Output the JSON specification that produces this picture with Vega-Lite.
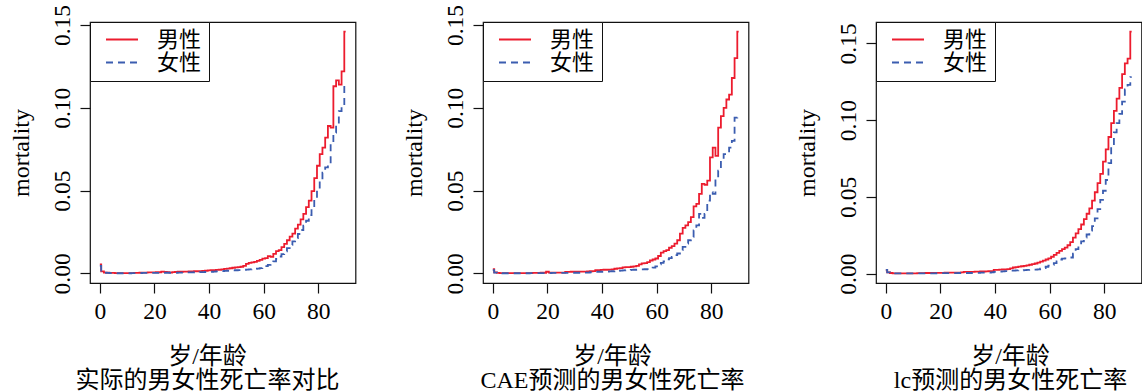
{
  "$schema": "https://vega.github.io/schema/vega-lite/v6.json",
  "padding": {"left": 8, "top": 3, "right": 0, "bottom": 0},
  "background": "white",
  "datasets": {
    "actual": [
      {"age":0,"男性":0.0055,"女性":0.0045},{"age":1,"男性":0.0012,"女性":0.0010},{"age":2,"男性":0.0005,"女性":0.0004},{"age":3,"男性":0.0004,"女性":0.0003},{"age":4,"男性":0.0003,"女性":0.0002},{"age":5,"男性":0.0003,"女性":0.0002},{"age":6,"男性":0.0002,"女性":0.0002},{"age":7,"男性":0.0002,"女性":0.0001},{"age":8,"男性":0.0002,"女性":0.0001},{"age":9,"男性":0.0002,"女性":0.0001},
      {"age":10,"男性":0.0002,"女性":0.0001},{"age":11,"男性":0.0002,"女性":0.0001},{"age":12,"男性":0.0002,"女性":0.0002},{"age":13,"男性":0.0003,"女性":0.0002},{"age":14,"男性":0.0003,"女性":0.0002},{"age":15,"男性":0.0004,"女性":0.0002},{"age":16,"男性":0.0005,"女性":0.0003},{"age":17,"男性":0.0005,"女性":0.0003},{"age":18,"男性":0.0006,"女性":0.0003},{"age":19,"男性":0.0006,"女性":0.0003},
      {"age":20,"男性":0.0006,"女性":0.0003},{"age":21,"男性":0.0007,"女性":0.0003},{"age":22,"男性":0.0007,"女性":0.0003},{"age":23,"男性":0.0011,"女性":0.0003},{"age":24,"男性":0.0009,"女性":0.0004},{"age":25,"男性":0.0008,"女性":0.0004},{"age":26,"男性":0.0005,"女性":0.0004},{"age":27,"男性":0.0008,"女性":0.0004},{"age":28,"男性":0.0009,"女性":0.0004},{"age":29,"男性":0.0010,"女性":0.0005},
      {"age":30,"男性":0.0010,"女性":0.0005},{"age":31,"男性":0.0011,"女性":0.0005},{"age":32,"男性":0.0011,"女性":0.0006},{"age":33,"男性":0.0012,"女性":0.0006},{"age":34,"男性":0.0012,"女性":0.0006},{"age":35,"男性":0.0013,"女性":0.0007},{"age":36,"男性":0.0013,"女性":0.0007},{"age":37,"男性":0.0014,"女性":0.0008},{"age":38,"男性":0.0015,"女性":0.0008},{"age":39,"男性":0.0016,"女性":0.0009},
      {"age":40,"男性":0.0018,"女性":0.0010},{"age":41,"男性":0.0019,"女性":0.0010},{"age":42,"男性":0.0020,"女性":0.0011},{"age":43,"男性":0.0021,"女性":0.0012},{"age":44,"男性":0.0022,"女性":0.0013},{"age":45,"男性":0.0024,"女性":0.0014},{"age":46,"男性":0.0027,"女性":0.0015},{"age":47,"男性":0.0029,"女性":0.0016},{"age":48,"男性":0.0031,"女性":0.0017},{"age":49,"男性":0.0034,"女性":0.0018},
      {"age":50,"男性":0.0036,"女性":0.0019},{"age":51,"男性":0.0038,"女性":0.0020},{"age":52,"男性":0.0040,"女性":0.0021},{"age":53,"男性":0.0045,"女性":0.0022},{"age":54,"男性":0.0058,"女性":0.0023},{"age":55,"男性":0.0064,"女性":0.0024},{"age":56,"男性":0.0067,"女性":0.0025},{"age":57,"男性":0.0070,"女性":0.0027},{"age":58,"男性":0.0075,"女性":0.0029},{"age":59,"男性":0.0082,"女性":0.0032},
      {"age":60,"男性":0.0089,"女性":0.0036},{"age":61,"男性":0.0092,"女性":0.0044},{"age":62,"男性":0.0104,"女性":0.0052},{"age":63,"男性":0.0100,"女性":0.0060},{"age":64,"男性":0.0118,"女性":0.0072},{"age":65,"男性":0.0135,"女性":0.0088},{"age":66,"男性":0.0140,"女性":0.0102},{"age":67,"男性":0.0159,"女性":0.0116},{"age":68,"男性":0.0178,"女性":0.0133},{"age":69,"男性":0.0200,"女性":0.0152},
      {"age":70,"男性":0.0222,"女性":0.0172},{"age":71,"男性":0.0240,"女性":0.0193},{"age":72,"男性":0.0270,"女性":0.0213},{"age":73,"男性":0.0295,"女性":0.0238},{"age":74,"男性":0.0326,"女性":0.0262},{"age":75,"男性":0.0360,"女性":0.0288},{"age":76,"男性":0.0400,"女性":0.0318},{"age":77,"男性":0.0440,"女性":0.0352},{"age":78,"男性":0.0497,"女性":0.0398},{"age":79,"男性":0.0575,"女性":0.0446},
      {"age":80,"男性":0.0650,"女性":0.0500},{"age":81,"男性":0.0720,"女性":0.0560},{"age":82,"男性":0.0760,"女性":0.0608},{"age":83,"男性":0.0820,"女性":0.0640},{"age":84,"男性":0.0890,"女性":0.0662},{"age":85,"男性":0.0880,"女性":0.0785},{"age":86,"男性":0.1130,"女性":0.0850},{"age":87,"男性":0.1165,"女性":0.0900},{"age":88,"男性":0.1140,"女性":0.0980},{"age":89,"男性":0.1220,"女性":0.1010},
      {"age":90,"男性":0.1460,"女性":0.1140}
    ],
    "cae": [
      {"age":0,"男性":0.0025,"女性":0.0020},{"age":1,"男性":0.0006,"女性":0.0005},{"age":2,"男性":0.0003,"女性":0.0002},{"age":3,"男性":0.0002,"女性":0.0002},{"age":4,"男性":0.0002,"女性":0.0001},{"age":5,"男性":0.0002,"女性":0.0001},{"age":6,"男性":0.0002,"女性":0.0001},{"age":7,"男性":0.0002,"女性":0.0001},{"age":8,"男性":0.0002,"女性":0.0001},{"age":9,"男性":0.0002,"女性":0.0001},
      {"age":10,"男性":0.0002,"女性":0.0001},{"age":11,"男性":0.0002,"女性":0.0001},{"age":12,"男性":0.0002,"女性":0.0001},{"age":13,"男性":0.0002,"女性":0.0001},{"age":14,"男性":0.0002,"女性":0.0002},{"age":15,"男性":0.0003,"女性":0.0002},{"age":16,"男性":0.0003,"女性":0.0002},{"age":17,"男性":0.0003,"女性":0.0002},{"age":18,"男性":0.0004,"女性":0.0002},{"age":19,"男性":0.0004,"女性":0.0002},
      {"age":20,"男性":0.0010,"女性":0.0002},{"age":21,"男性":0.0005,"女性":0.0002},{"age":22,"男性":0.0005,"女性":0.0003},{"age":23,"男性":0.0005,"女性":0.0003},{"age":24,"男性":0.0005,"女性":0.0003},{"age":25,"男性":0.0005,"女性":0.0003},{"age":26,"男性":0.0005,"女性":0.0003},{"age":27,"男性":0.0009,"女性":0.0003},{"age":28,"男性":0.0009,"女性":0.0003},{"age":29,"男性":0.0010,"女性":0.0004},
      {"age":30,"男性":0.0010,"女性":0.0004},{"age":31,"男性":0.0010,"女性":0.0004},{"age":32,"男性":0.0011,"女性":0.0004},{"age":33,"男性":0.0011,"女性":0.0005},{"age":34,"男性":0.0011,"女性":0.0005},{"age":35,"男性":0.0012,"女性":0.0005},{"age":36,"男性":0.0013,"女性":0.0007},{"age":37,"男性":0.0014,"女性":0.0008},{"age":38,"男性":0.0019,"女性":0.0009},{"age":39,"男性":0.0020,"女性":0.0010},
      {"age":40,"男性":0.0021,"女性":0.0010},{"age":41,"男性":0.0022,"女性":0.0011},{"age":42,"男性":0.0022,"女性":0.0011},{"age":43,"男性":0.0023,"女性":0.0012},{"age":44,"男性":0.0024,"女性":0.0013},{"age":45,"男性":0.0028,"女性":0.0014},{"age":46,"男性":0.0030,"女性":0.0016},{"age":47,"男性":0.0032,"女性":0.0017},{"age":48,"男性":0.0036,"女性":0.0018},{"age":49,"男性":0.0038,"女性":0.0019},
      {"age":50,"男性":0.0038,"女性":0.0020},{"age":51,"男性":0.0040,"女性":0.0021},{"age":52,"男性":0.0042,"女性":0.0022},{"age":53,"男性":0.0046,"女性":0.0023},{"age":54,"男性":0.0055,"女性":0.0023},{"age":55,"男性":0.0060,"女性":0.0024},{"age":56,"男性":0.0062,"女性":0.0025},{"age":57,"男性":0.0068,"女性":0.0026},{"age":58,"男性":0.0078,"女性":0.0030},{"age":59,"男性":0.0084,"女性":0.0035},
      {"age":60,"男性":0.0090,"女性":0.0042},{"age":61,"男性":0.0105,"女性":0.0055},{"age":62,"男性":0.0125,"女性":0.0064},{"age":63,"男性":0.0135,"女性":0.0072},{"age":64,"男性":0.0140,"女性":0.0085},{"age":65,"男性":0.0155,"女性":0.0092},{"age":66,"男性":0.0165,"女性":0.0100},{"age":67,"男性":0.0180,"女性":0.0110},{"age":68,"男性":0.0200,"女性":0.0120},{"age":69,"男性":0.0240,"女性":0.0140},
      {"age":70,"男性":0.0275,"女性":0.0160},{"age":71,"男性":0.0290,"女性":0.0180},{"age":72,"男性":0.0310,"女性":0.0200},{"age":73,"男性":0.0340,"女性":0.0220},{"age":74,"男性":0.0405,"女性":0.0260},{"age":75,"男性":0.0420,"女性":0.0290},{"age":76,"男性":0.0480,"女性":0.0360},{"age":77,"男性":0.0540,"女性":0.0335},{"age":78,"男性":0.0535,"女性":0.0360},{"age":79,"男性":0.0560,"女性":0.0440},
      {"age":80,"男性":0.0700,"女性":0.0490},{"age":81,"男性":0.0760,"女性":0.0480},{"age":82,"男性":0.0710,"女性":0.0580},{"age":83,"男性":0.0880,"女性":0.0620},{"age":84,"男性":0.0950,"女性":0.0680},{"age":85,"男性":0.1000,"女性":0.0720},{"age":86,"男性":0.1050,"女性":0.0730},{"age":87,"男性":0.1080,"女性":0.0760},{"age":88,"男性":0.1180,"女性":0.0800},{"age":89,"男性":0.1300,"女性":0.0940},
      {"age":90,"男性":0.1460,"女性":0.0960}
    ],
    "lc": [
      {"age":0,"男性":0.0022,"女性":0.0025},{"age":1,"男性":0.0008,"女性":0.0008},{"age":2,"男性":0.0004,"女性":0.0003},{"age":3,"男性":0.0002,"女性":0.0002},{"age":4,"男性":0.0002,"女性":0.0002},{"age":5,"男性":0.0002,"女性":0.0002},{"age":6,"男性":0.0002,"女性":0.0002},{"age":7,"男性":0.0002,"女性":0.0002},{"age":8,"男性":0.0002,"女性":0.0002},{"age":9,"男性":0.0002,"女性":0.0002},
      {"age":10,"男性":0.0002,"女性":0.0002},{"age":11,"男性":0.0002,"女性":0.0002},{"age":12,"男性":0.0003,"女性":0.0002},{"age":13,"男性":0.0003,"女性":0.0002},{"age":14,"男性":0.0003,"女性":0.0002},{"age":15,"男性":0.0004,"女性":0.0002},{"age":16,"男性":0.0004,"女性":0.0002},{"age":17,"男性":0.0004,"女性":0.0002},{"age":18,"男性":0.0005,"女性":0.0002},{"age":19,"男性":0.0005,"女性":0.0003},
      {"age":20,"男性":0.0005,"女性":0.0003},{"age":21,"男性":0.0005,"女性":0.0003},{"age":22,"男性":0.0006,"女性":0.0003},{"age":23,"男性":0.0006,"女性":0.0003},{"age":24,"男性":0.0006,"女性":0.0003},{"age":25,"男性":0.0007,"女性":0.0003},{"age":26,"男性":0.0007,"女性":0.0003},{"age":27,"男性":0.0007,"女性":0.0004},{"age":28,"男性":0.0008,"女性":0.0004},{"age":29,"男性":0.0011,"女性":0.0004},
      {"age":30,"男性":0.0011,"女性":0.0004},{"age":31,"男性":0.0012,"女性":0.0004},{"age":32,"男性":0.0012,"女性":0.0005},{"age":33,"男性":0.0013,"女性":0.0005},{"age":34,"男性":0.0013,"女性":0.0005},{"age":35,"男性":0.0014,"女性":0.0006},{"age":36,"男性":0.0014,"女性":0.0006},{"age":37,"男性":0.0015,"女性":0.0006},{"age":38,"男性":0.0016,"女性":0.0007},{"age":39,"男性":0.0017,"女性":0.0008},
      {"age":40,"男性":0.0024,"女性":0.0012},{"age":41,"男性":0.0025,"女性":0.0013},{"age":42,"男性":0.0026,"女性":0.0014},{"age":43,"男性":0.0027,"女性":0.0015},{"age":44,"男性":0.0028,"女性":0.0016},{"age":45,"男性":0.0030,"女性":0.0018},{"age":46,"男性":0.0034,"女性":0.0019},{"age":47,"男性":0.0040,"女性":0.0020},{"age":48,"男性":0.0043,"女性":0.0021},{"age":49,"男性":0.0046,"女性":0.0022},
      {"age":50,"男性":0.0048,"女性":0.0022},{"age":51,"男性":0.0050,"女性":0.0023},{"age":52,"男性":0.0054,"女性":0.0024},{"age":53,"男性":0.0058,"女性":0.0025},{"age":54,"男性":0.0062,"女性":0.0026},{"age":55,"男性":0.0066,"女性":0.0026},{"age":56,"男性":0.0072,"女性":0.0028},{"age":57,"男性":0.0078,"女性":0.0032},{"age":58,"男性":0.0085,"女性":0.0036},{"age":59,"男性":0.0092,"女性":0.0045},
      {"age":60,"男性":0.0100,"女性":0.0052},{"age":61,"男性":0.0110,"女性":0.0058},{"age":62,"男性":0.0122,"女性":0.0068},{"age":63,"男性":0.0135,"女性":0.0080},{"age":64,"男性":0.0148,"女性":0.0092},{"age":65,"男性":0.0160,"女性":0.0098},{"age":66,"男性":0.0170,"女性":0.0100},{"age":67,"男性":0.0185,"女性":0.0102},{"age":68,"男性":0.0205,"女性":0.0105},{"age":69,"男性":0.0235,"女性":0.0130},
      {"age":70,"男性":0.0262,"女性":0.0160},{"age":71,"男性":0.0290,"女性":0.0185},{"age":72,"男性":0.0320,"女性":0.0210},{"age":73,"男性":0.0355,"女性":0.0235},{"age":74,"男性":0.0390,"女性":0.0255},{"age":75,"男性":0.0425,"女性":0.0280},{"age":76,"男性":0.0475,"女性":0.0310},{"age":77,"男性":0.0530,"女性":0.0360},{"age":78,"男性":0.0590,"女性":0.0420},{"age":79,"男性":0.0650,"女性":0.0480},
      {"age":80,"男性":0.0730,"女性":0.0540},{"age":81,"男性":0.0810,"女性":0.0610},{"age":82,"男性":0.0890,"女性":0.0720},{"age":83,"男性":0.0980,"女性":0.0830},{"age":84,"男性":0.1060,"女性":0.0920},{"age":85,"男性":0.1140,"女性":0.0980},{"age":86,"男性":0.1210,"女性":0.1040},{"age":87,"男性":0.1300,"女性":0.1120},{"age":88,"男性":0.1370,"女性":0.1200},{"age":89,"男性":0.1400,"女性":0.1230},
      {"age":90,"男性":0.1576,"女性":0.1280}
    ]
  },
  "spacing": 127,
  "bounds": "flush",
  "resolve": {
    "scale": {"x": "independent", "y": "independent", "color": "independent", "strokeDash": "independent"},
    "legend": {"color": "independent", "strokeDash": "independent"}
  },
  "hconcat": [
    {
      "width": 265.5,
      "height": 261,
      "data": {"name": "actual"},
      "transform": [{"fold": ["男性", "女性"], "as": ["sex", "m"]}],
      "mark": {"type": "line", "interpolate": "step", "strokeWidth": 1.8},
      "encoding": {
        "x": {"field": "age", "type": "quantitative", "scale": {"domain": [-3.6, 93.6], "nice": false, "zero": false},
              "axis": {"values": [0, 20, 40, 60, 80], "title": ["岁/年龄", "实际的男女性死亡率对比"], "titleX": 117}},
        "y": {"field": "m", "type": "quantitative", "scale": {"domain": [-0.0058, 0.1518], "nice": false, "zero": false},
              "axis": {"values": [0, 0.05, 0.1, 0.15], "format": ".2f", "title": "mortality"}},
        "color": {"field": "sex", "type": "nominal", "scale": {"domain": ["男性", "女性"], "range": ["#ec1c2e", "#3b5db0"]},
                  "legend": {"orient": "none", "legendX": 0, "legendY": 0, "title": null}},
        "strokeDash": {"field": "sex", "type": "nominal", "scale": {"domain": ["男性", "女性"], "range": [[1, 0], [7, 5]]},
                       "legend": {"orient": "none", "legendX": 0, "legendY": 0, "title": null}}
      }
    },
    {
      "width": 265.5,
      "height": 261,
      "data": {"name": "cae"},
      "transform": [{"fold": ["男性", "女性"], "as": ["sex", "m"]}],
      "mark": {"type": "line", "interpolate": "step", "strokeWidth": 1.8},
      "encoding": {
        "x": {"field": "age", "type": "quantitative", "scale": {"domain": [-3.6, 93.6], "nice": false, "zero": false},
              "axis": {"values": [0, 20, 40, 60, 80], "title": ["岁/年龄", "CAE预测的男女性死亡率"], "titleX": 129}},
        "y": {"field": "m", "type": "quantitative", "scale": {"domain": [-0.0058, 0.1518], "nice": false, "zero": false},
              "axis": {"values": [0, 0.05, 0.1, 0.15], "format": ".2f", "title": "mortality"}},
        "color": {"field": "sex", "type": "nominal", "scale": {"domain": ["男性", "女性"], "range": ["#ec1c2e", "#3b5db0"]},
                  "legend": {"orient": "none", "legendX": 0, "legendY": 0, "title": null}},
        "strokeDash": {"field": "sex", "type": "nominal", "scale": {"domain": ["男性", "女性"], "range": [[1, 0], [7, 5]]},
                       "legend": {"orient": "none", "legendX": 0, "legendY": 0, "title": null}}
      }
    },
    {
      "width": 265.5,
      "height": 261,
      "data": {"name": "lc"},
      "transform": [{"fold": ["男性", "女性"], "as": ["sex", "m"]}],
      "mark": {"type": "line", "interpolate": "step", "strokeWidth": 1.8},
      "encoding": {
        "x": {"field": "age", "type": "quantitative", "scale": {"domain": [-3.6, 93.6], "nice": false, "zero": false},
              "axis": {"values": [0, 20, 40, 60, 80], "title": ["岁/年龄", "lc预测的男女性死亡率"], "titleX": 134}},
        "y": {"field": "m", "type": "quantitative", "scale": {"domain": [-0.0061, 0.1639], "nice": false, "zero": false},
              "axis": {"values": [0, 0.05, 0.1, 0.15], "format": ".2f", "title": "mortality"}},
        "color": {"field": "sex", "type": "nominal", "scale": {"domain": ["男性", "女性"], "range": ["#ec1c2e", "#3b5db0"]},
                  "legend": {"orient": "none", "legendX": 0, "legendY": 0, "title": null}},
        "strokeDash": {"field": "sex", "type": "nominal", "scale": {"domain": ["男性", "女性"], "range": [[1, 0], [7, 5]]},
                       "legend": {"orient": "none", "legendX": 0, "legendY": 0, "title": null}}
      }
    }
  ],
  "config": {
    "font": "Liberation Serif, Noto Sans CJK SC",
    "view": {"stroke": "#111", "strokeWidth": 1.2},
    "axis": {
      "grid": false,
      "domain": false,
      "ticks": true,
      "tickColor": "#111",
      "tickSize": 10,
      "tickWidth": 1.2,
      "labelFont": "Liberation Serif, Noto Sans CJK SC",
      "labelFontSize": 23.5,
      "labelColor": "#000",
      "labelFlush": false,
      "labelOverlap": false,
      "titleFont": "Liberation Serif, Noto Sans CJK SC",
      "titleFontSize": 24,
      "titleFontWeight": "normal",
      "titleColor": "#000"
    },
    "axisX": {
      "labelBaseline": "alphabetic",
      "labelPadding": 25,
      "titleY": 73,
      "titleBaseline": "middle",
      "titleAlign": "center",
      "titleLineHeight": 24
    },
    "axisY": {
      "labelAngle": -90,
      "labelAlign": "center",
      "labelBaseline": "alphabetic",
      "labelPadding": 11,
      "titleAngle": -90,
      "titleX": -62,
      "titleY": 130.5,
      "titleAlign": "center",
      "titleBaseline": "alphabetic"
    },
    "legend": {
      "strokeColor": "#111",
      "fillColor": "#fff",
      "padding": 7,
      "clipHeight": 21,
      "symbolType": "stroke",
      "symbolSize": 1024,
      "symbolStrokeWidth": 1.8,
      "symbolOffset": 8,
      "labelFont": "Liberation Serif, Noto Sans CJK SC",
      "labelFontSize": 22,
      "labelColor": "#000",
      "labelOffset": 18,
      "labelExpr": "datum.label + '\u00a0\u00a0\u00a0\u00a0\u00a0'",
      "rowPadding": 0
    }
  }
}
